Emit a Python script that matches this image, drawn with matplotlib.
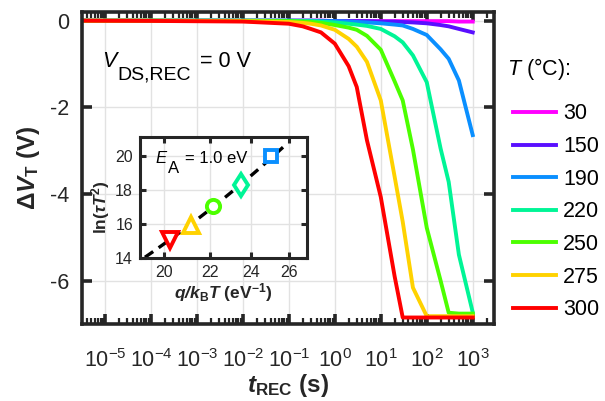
import numpy as np
import matplotlib
matplotlib.use("Agg")
import matplotlib.pyplot as plt
from matplotlib.ticker import LogLocator, NullFormatter, FixedLocator, FixedFormatter

plt.rcParams['font.family'] = ['Liberation Sans', 'DejaVu Sans']
plt.rcParams['mathtext.fontset'] = 'custom'
plt.rcParams['mathtext.rm'] = 'Liberation Sans'
plt.rcParams['mathtext.it'] = 'Liberation Sans:italic'
plt.rcParams['mathtext.bf'] = 'Liberation Sans:bold'
plt.rcParams['mathtext.bfit'] = 'Liberation Sans:italic:bold'
plt.rcParams['axes.unicode_minus'] = False

# recovery time (s)
t_rec = [3.2e-6, 1e-4, 1e-2, 0.1, 0.2, 0.3, 0.5, 1, 2, 3, 5, 10, 20, 30, 50,
         100, 200, 300, 500, 1000]

# threshold voltage shift (V) for each recovery temperature
dvt_30 = [0, 0, 0, 0, 0, 0, 0, -0.01, -0.01, -0.01, -0.01, -0.01, -0.01, -0.01,
          -0.01, -0.01, -0.01, -0.01, -0.02, -0.02]
dvt_150 = [0, 0, 0, 0, 0, 0, 0, -0.01, -0.01, -0.01, -0.01, -0.02, -0.02, -0.03,
           -0.04, -0.06, -0.10, -0.13, -0.19, -0.27]
dvt_190 = [0, 0, 0, 0, 0, 0, -0.01, -0.01, -0.02, -0.03, -0.04, -0.06, -0.09,
           -0.11, -0.19, -0.33, -0.66, -0.88, -1.38, -2.64]
dvt_220 = [0, 0, 0, 0, -0.01, -0.01, -0.02, -0.04, -0.07, -0.09, -0.12, -0.19,
           -0.36, -0.50, -0.80, -1.42, -2.95, -3.72, -5.40, -6.73]
dvt_250 = [0, 0, 0, -0.01, -0.02, -0.03, -0.05, -0.10, -0.16, -0.21, -0.35,
           -0.67, -1.40, -1.84, -2.97, -4.78, -6.00, -6.74, -6.76, -6.76]
dvt_275 = [0, 0, -0.01, -0.03, -0.05, -0.07, -0.11, -0.21, -0.42, -0.60, -0.95,
           -1.84, -3.60, -4.64, -6.16, -6.82, -6.82, -6.82, -6.82, -6.82]
dvt_300 = [0, -0.005, -0.02, -0.07, -0.13, -0.19, -0.27, -0.53, -1.05, -1.53,
           -2.76, -4.07, -5.90, -6.85, -6.85, -6.85, -6.85, -6.85, -6.85, -6.85]

temps = ['30', '150', '190', '220', '250', '275', '300']
curves = [dvt_30, dvt_150, dvt_190, dvt_220, dvt_250, dvt_275, dvt_300]
colors = ['#FF00FF', '#5A0FFF', '#0A8FFF', '#00F596', '#4CFF00', '#FFD200', '#FF0000']

# Arrhenius inset: 300, 275, 250, 220, 190 C
inv_kT = [20.25, 21.17, 22.18, 23.53, 25.06]
ln_tau_T2 = [15.05, 15.94, 17.03, 18.31, 19.99]
arr_markers = ['v', '^', 'o', 'd', 's']
arr_colors = ['#FF0000', '#FFD200', '#4CFF00', '#00F596', '#0A8FFF']
arr_sizes = [11, 11, 9.5, 11.5, 8]
ea = 1.0  # activation energy (eV)

dark = '#262626'

fig = plt.figure(figsize=(6.05, 4.01), dpi=100)
ax = fig.add_axes([0.1355, 0.192, 0.681, 0.778])

for T, dv, c in zip(temps, curves, colors):
    ax.plot(t_rec, dv, color=c, lw=2.8, label=T)

ax.set_xscale('log')
ax.set_xlim(3.16e-6, 2.9e3)
ax.set_ylim(-7.0, 0.2)
ax.set_xticks([1e-5, 1e-4, 1e-3, 1e-2, 1e-1, 1e0, 1e1, 1e2, 1e3])
ax.xaxis.set_minor_locator(LogLocator(base=10, subs=np.arange(2, 10), numticks=20))
ax.xaxis.set_minor_formatter(NullFormatter())
ax.set_yticks([-6, -4, -2, 0])
ax.grid(True, which='major', color='#e2e2e2', lw=1)
ax.set_axisbelow(True)
for sp in ax.spines.values():
    sp.set_linewidth(2.6)
    sp.set_color(dark)
ax.tick_params(which='both', direction='in', top=True, right=True, colors=dark,
               labelcolor=dark)
ax.tick_params(which='major', length=7, width=2.6)
ax.tick_params(which='minor', length=4, width=1.6)
ax.tick_params(axis='x', which='major', pad=18, labelsize=15.5)
ax.tick_params(axis='y', which='major', pad=9, labelsize=15.5)

ax.set_xlabel(r'$\mathbfit{t}_{\mathbf{REC}}$ (s)', fontsize=17.5, fontweight='bold',
              color=dark, labelpad=0)
ax.set_ylabel(r'$\mathbf{\Delta}\mathbfit{V}_{\mathbf{T}}$ (V)', fontsize=17.5,
              fontweight='bold', color=dark, labelpad=6)

# V_DS,REC annotation, subscript drawn at near full size
ax.text(0.048, 0.825, 'V', transform=ax.transAxes, fontsize=15.5, style='italic',
        va='baseline', ha='left')
ax.text(0.087, 0.784, 'DS,REC', transform=ax.transAxes, fontsize=14,
        va='baseline', ha='left')
ax.text(0.286, 0.825, '= 0 V', transform=ax.transAxes, fontsize=15.5,
        va='baseline', ha='left')

# legend with the title as a separate text
leg = ax.legend(loc='upper left', bbox_to_anchor=(0.848, 0.742),
                bbox_transform=fig.transFigure, frameon=False, fontsize=15.5,
                handlelength=2.0, handletextpad=0.33, labelspacing=0.54,
                borderpad=0, borderaxespad=0)
for line in leg.get_lines():
    line.set_linewidth(2.8)
fig.text(0.838, 0.828, r'$T$ (°C):', fontsize=15.5, va='center', ha='left')

# inset: Arrhenius plot
ins = fig.add_axes([0.2314, 0.3574, 0.2755, 0.3003])
ins.set_xscale('log')
ins.set_xlim(19, 27)
ins.set_ylim(14, 21.1)
ins.xaxis.set_major_locator(FixedLocator([20, 22, 24, 26]))
ins.xaxis.set_major_formatter(FixedFormatter(['20', '22', '24', '26']))
ins.xaxis.set_minor_locator(FixedLocator([]))
ins.set_yticks([14, 16, 18, 20])
ins.grid(True, which='major', color='#e2e2e2', lw=1)
ins.set_axisbelow(True)

b = np.mean(np.array(ln_tau_T2) - ea * np.array(inv_kT))
x_fit = np.linspace(19.2, 25.7, 50)
ins.plot(x_fit, ea * x_fit + b, color='black', lw=2.4, ls=(0, (3, 2)))
for x, y, m, c, s in zip(inv_kT, ln_tau_T2, arr_markers, arr_colors, arr_sizes):
    ins.plot(x, y, marker=m, ms=s, mfc='white', mec=c, mew=2.8, ls='none')

for sp in ins.spines.values():
    sp.set_linewidth(2.2)
    sp.set_color(dark)
ins.tick_params(which='both', direction='in', top=True, right=True, length=4.5,
                width=2.2, colors=dark, labelcolor=dark, labelsize=11.5, pad=5)
ins.set_xlabel(r'$\mathbfit{q/k}_{\mathbf{B}}\mathbfit{T}$ (eV$^{\mathbf{-1}}$)',
               fontsize=12.5, fontweight='bold', color=dark, labelpad=1)
ins.set_ylabel(r'$\mathbf{ln(}\mathbfit{\tau T}^{\mathbf{2}}\mathbf{)}$', fontsize=12.5,
               fontweight='bold', color=dark)
ins.yaxis.set_label_coords(-0.165, 0.42)
ins.text(0.09, 0.784, 'E', transform=ins.transAxes, fontsize=12, style='italic',
         va='baseline', ha='left')
ins.text(0.168, 0.703, 'A', transform=ins.transAxes, fontsize=12,
         va='baseline', ha='left')
ins.text(0.27, 0.784, '= 1.0 eV', transform=ins.transAxes, fontsize=12,
         va='baseline', ha='left')

fig.savefig('out.png', dpi=100)
